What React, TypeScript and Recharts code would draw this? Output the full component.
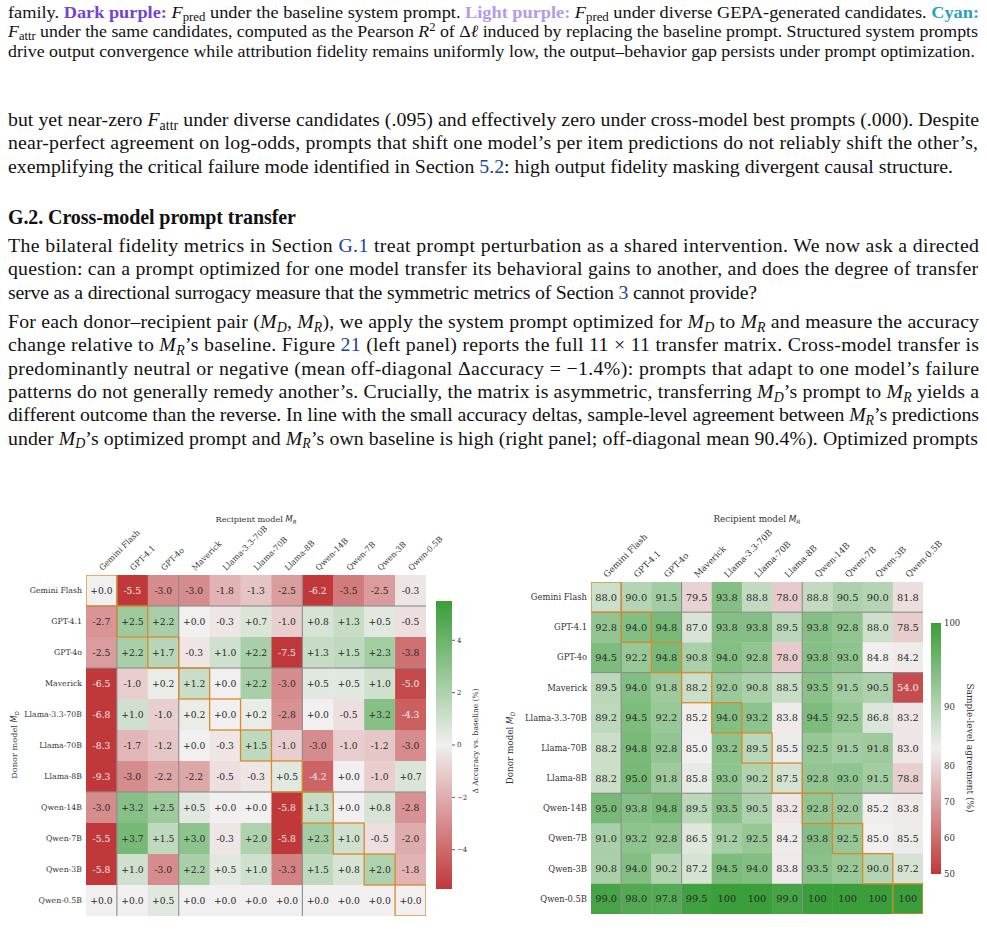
import React from 'react';
import { ScatterChart, Scatter, XAxis, YAxis } from 'recharts';

// ---------- DATA ----------
const models = ['Gemini Flash', 'GPT-4.1', 'GPT-4o', 'Maverick', 'Llama-3.3-70B', 'Llama-70B', 'Llama-8B', 'Qwen-14B', 'Qwen-7B', 'Qwen-3B', 'Qwen-0.5B'];
const familyStarts = [1, 3, 7];
const cellIndex = [0, 1, 2, 3, 4, 5, 6, 7, 8, 9, 10];

// Δ accuracy vs baseline (%), rows = donor, cols = recipient
const deltaMatrix = [
  [0.0, -5.5, -3.0, -3.0, -1.8, -1.3, -2.5, -6.2, -3.5, -2.5, -0.3],
  [-2.7, 2.5, 2.2, 0.0, -0.3, 0.7, -1.0, 0.8, 1.3, 0.5, -0.5],
  [-2.5, 2.2, 1.7, -0.3, 1.0, 2.2, -7.5, 1.3, 1.5, 2.3, -3.8],
  [-6.5, -1.0, 0.2, 1.2, 0.0, 2.2, -3.0, 0.5, 0.5, 1.0, -5.0],
  [-6.8, 1.0, -1.0, 0.2, 0.0, 0.2, -2.8, 0.0, -0.5, 3.2, -4.3],
  [-8.3, -1.7, -1.2, 0.0, -0.3, 1.5, -1.0, -3.0, -1.0, -1.2, -3.0],
  [-9.3, -3.0, -2.2, -2.2, -0.5, -0.3, 0.5, -4.2, 0.0, -1.0, 0.7],
  [-3.0, 3.2, 2.5, 0.5, 0.0, 0.0, -5.8, 1.3, 0.0, 0.8, -2.8],
  [-5.5, 3.7, 1.5, 3.0, -0.3, 2.0, -5.8, 2.3, 1.0, -0.5, -2.0],
  [-5.8, 1.0, -3.0, 2.2, 0.5, 1.0, -3.3, 1.5, 0.8, 2.0, -1.8],
  [0.0, 0.0, 0.5, 0.0, 0.0, 0.0, 0.0, 0.0, 0.0, 0.0, 0.0],
];

// Sample-level agreement (%)
const agreeMatrix = [
  [88.0, 90.0, 91.5, 79.5, 93.8, 88.8, 78.0, 88.8, 90.5, 90.0, 81.8],
  [92.8, 94.0, 94.8, 87.0, 93.8, 93.8, 89.5, 93.8, 92.8, 88.0, 78.5],
  [94.5, 92.2, 94.8, 90.8, 94.0, 92.8, 78.0, 93.8, 93.0, 84.8, 84.2],
  [89.5, 94.0, 91.8, 88.2, 92.0, 90.8, 88.5, 93.5, 91.5, 90.5, 54.0],
  [89.2, 94.5, 92.2, 85.2, 94.0, 93.2, 83.8, 94.5, 92.5, 86.8, 83.2],
  [88.2, 94.8, 92.8, 85.0, 93.2, 89.5, 85.5, 92.5, 91.5, 91.8, 83.0],
  [88.2, 95.0, 91.8, 85.8, 93.0, 90.2, 87.5, 92.8, 93.0, 91.5, 78.8],
  [95.0, 93.8, 94.8, 89.5, 93.5, 90.5, 83.2, 92.8, 92.0, 85.2, 83.8],
  [91.0, 93.2, 92.8, 86.5, 91.2, 92.5, 84.2, 93.8, 92.5, 85.0, 85.5],
  [90.8, 94.0, 90.2, 87.2, 94.5, 94.0, 83.8, 93.5, 92.2, 90.0, 87.2],
  [99.0, 98.0, 97.8, 99.5, 100, 100, 99.0, 100, 100, 100, 100],
];

const deltaTicks = [4, 2, 0, -2, -4];
const agreeTicks = [100, 90, 80, 70, 60, 50];

// ---------- COLOURS / NORMS ----------
const RED = [192, 56, 58];
const MID = [241, 239, 239];
const GREEN = [58, 158, 58];
const ORANGE = '#d98a2c';
const SEP = '#8c8c8c';

function cmap(t: number) {
  const c = t < 0 ? RED : GREEN;
  const a = Math.min(1, Math.abs(t));
  return [0, 1, 2].map((i) => Math.round(MID[i] + (c[i] - MID[i]) * a));
}
const deltaNorm = (v: number) => Math.max(-1, Math.min(1, v / 5.5));
const agreeNorm = (v: number) => (v >= 85 ? (v - 85) / 15 : (v - 85) / 35);
const fmtDelta = (v: number) => (v >= 0 ? '+' : '-') + Math.abs(v).toFixed(1);
const fmtAgree = (v: number) => (v >= 100 ? '100' : v.toFixed(1));

// ---------- HEATMAP ----------
type HMProps = {
  left: number; top: number; w: number; h: number;
  margin: { top: number; right: number; bottom: number; left: number };
  yAxisW: number; xAxisH: number;
  matrix: number[][]; norm: (v: number) => number; fmt: (v: number) => string;
  cellFont: number; rowFont: number; colFont: number;
};

function Heatmap(p: HMProps) {
  const plotW = p.w - p.margin.left - p.yAxisW - p.margin.right;
  const plotH = p.h - p.margin.top - p.xAxisH - p.margin.bottom;
  const cw = plotW / models.length;
  const ch = plotH / models.length;
  const data = p.matrix.flatMap((row, r) => row.map((v, c) => ({ x: c, y: r, v })));
  const diag = data.filter((d) => d.x === d.y);

  const CellShape = (s: any) => {
    const { cx, cy, payload } = s;
    const [r, g, b] = cmap(p.norm(payload.v));
    const L = 0.2126 * r + 0.7152 * g + 0.0722 * b;
    return (
      <g>
        <rect x={cx - cw / 2} y={cy - ch / 2} width={cw + 0.4} height={ch + 0.4} fill={`rgb(${r},${g},${b})`} />
        <text x={cx} y={cy} dy="0.36em" textAnchor="middle" fontSize={p.cellFont} fontFamily="DejaVu Serif"
          fill={L < 126 ? '#f6eeee' : '#2a2a2a'}>{p.fmt(payload.v)}</text>
      </g>
    );
  };
  const SepShape = (s: any) => {
    const { cx, cy, payload } = s;
    return (
      <g>
        {familyStarts.includes(payload.x) && (
          <line x1={cx - cw / 2} x2={cx - cw / 2} y1={cy - ch / 2} y2={cy + ch / 2} stroke={SEP} strokeWidth={1.1} />
        )}
        {familyStarts.includes(payload.y) && (
          <line x1={cx - cw / 2} x2={cx + cw / 2} y1={cy - ch / 2} y2={cy - ch / 2} stroke={SEP} strokeWidth={1.1} />
        )}
      </g>
    );
  };
  const DiagShape = (s: any) => {
    const { cx, cy } = s;
    return <rect x={cx - cw / 2} y={cy - ch / 2} width={cw} height={ch} fill="none" stroke={ORANGE} strokeWidth={1.3} />;
  };
  const ColTick = (t: any) => {
    const { x, y, payload } = t;
    return (
      <text x={x + 1} y={y} transform={`rotate(-45, ${x + 1}, ${y})`} textAnchor="start" fontSize={p.colFont}
        fontFamily="DejaVu Serif" fill="#333">{models[payload.value]}</text>
    );
  };
  const RowTick = (t: any) => {
    const { x, y, payload } = t;
    return (
      <text x={x} y={y} dy="0.35em" textAnchor="end" fontSize={p.rowFont} fontFamily="DejaVu Serif" fill="#333">
        {models[payload.value]}
      </text>
    );
  };

  return (
    <div style={{ position: 'absolute', left: p.left, top: p.top }}>
      <ScatterChart width={p.w} height={p.h} margin={p.margin}>
        <XAxis type="number" dataKey="x" domain={[-0.5, 10.5]} ticks={cellIndex} interval={0} orientation="top"
          height={p.xAxisH} axisLine={false} tickLine={false} tickSize={0} tickMargin={4} tick={<ColTick />} allowDataOverflow />
        <YAxis type="number" dataKey="y" domain={[-0.5, 10.5]} ticks={cellIndex} interval={0} reversed
          width={p.yAxisW} axisLine={false} tickLine={false} tickSize={0} tickMargin={4} tick={<RowTick />} allowDataOverflow />
        <Scatter data={data} shape={CellShape} isAnimationActive={false} />
        <Scatter data={data} shape={SepShape} isAnimationActive={false} />
        <Scatter data={diag} shape={DiagShape} isAnimationActive={false} />
      </ScatterChart>
    </div>
  );
}

// ---------- PAGE TEXT ----------
type SegObj = { t: string; i?: boolean; b?: boolean; c?: string; sub?: boolean; sup?: boolean };
type Seg = string | SegObj;
const DARKP = '#7444cf';
const LIGHTP = '#b49ae9';
const CYAN = '#27a2bf';
const LINK = '#22409e';
const F: SegObj = { t: 'F', i: true };
const sub = (t: string, i = false): SegObj => ({ t, sub: true, i });
const MD: Seg[] = [{ t: 'M', i: true }, sub('D', true)];
const MR: Seg[] = [{ t: 'M', i: true }, sub('R', true)];
const link = (t: string): SegObj => ({ t, c: LINK });

function TextLine({ x, y, size, segs, len, adjust = 'spacing', bold = false }:
  { x: number; y: number; size: number; segs: Seg[]; len?: number; adjust?: string; bold?: boolean }) {
  let shift = 0;
  const kids = segs.map((s, k) => {
    const o: SegObj = typeof s === 'string' ? { t: s } : s;
    const target = o.sub ? size * 0.2 : o.sup ? -size * 0.36 : 0;
    const dy = target - shift;
    shift = target;
    return (
      <tspan key={k} dy={dy !== 0 ? dy : undefined} fontStyle={o.i ? 'italic' : undefined}
        fontWeight={o.b ? 'bold' : undefined} fill={o.c} fontSize={o.sub || o.sup ? size * 0.7 : undefined}>{o.t}</tspan>
    );
  });
  return (
    <text x={x} y={y} fontSize={size} fontFamily="'Liberation Serif', serif" fill="#111" fontWeight={bold ? 'bold' : undefined}
      textLength={len} lengthAdjust={adjust as any} style={{ whiteSpace: 'pre' }}>{kids}</text>
  );
}

const captionLines: Seg[][] = [
  ['family. ', { t: 'Dark purple:', b: true, c: DARKP }, ' ', F, sub('pred'), ' under the baseline system prompt. ',
    { t: 'Light purple:', b: true, c: LIGHTP }, ' ', F, sub('pred'), ' under diverse GEPA-generated candidates. ', { t: 'Cyan:', b: true, c: CYAN }],
  [F, sub('attr'), ' under the same candidates, computed as the Pearson ', { t: 'R', i: true }, { t: '2', sup: true }, ' of Δ', { t: 'ℓ', i: true },
    ' induced by replacing the baseline prompt. Structured system prompts'],
  ['drive output convergence while attribution fidelity remains uniformly low, the output–behavior gap persists under prompt optimization.'],
];
const captionEnds = [979, 978, 975];

const bodyLines: { y: number; end: number; segs: Seg[] }[] = [
  { y: 126, end: 979, segs: ['but yet near-zero ', F, sub('attr'), ' under diverse candidates (.095) and effectively zero under cross-model best prompts (.000). Despite'] },
  { y: 149.3, end: 978, segs: ['near-perfect agreement on log-odds, prompts that shift one model’s per item predictions do not reliably shift the other’s,'] },
  { y: 172.6, end: 953, segs: ['exemplifying the critical failure mode identified in Section ', link('5.2'), ': high output fidelity masking divergent causal structure.'] },
  { y: 252, end: 979, segs: ['The bilateral fidelity metrics in Section ', link('G.1'), ' treat prompt perturbation as a shared intervention. We now ask a directed'] },
  { y: 275.3, end: 978, segs: ['question: can a prompt optimized for one model transfer its behavioral gains to another, and does the degree of transfer'] },
  { y: 298.6, end: 757, segs: ['serve as a directional surrogacy measure that the symmetric metrics of Section ', link('3'), ' cannot provide?'] },
  { y: 328, end: 979, segs: ['For each donor–recipient pair (', ...MD, ', ', ...MR, '), we apply the system prompt optimized for ', ...MD, ' to ', ...MR, ' and measure the accuracy'] },
  { y: 351.3, end: 979, segs: ['change relative to ', ...MR, '’s baseline. Figure ', link('21'), ' (left panel) reports the full 11 × 11 transfer matrix. Cross-model transfer is'] },
  { y: 374.6, end: 979, segs: ['predominantly neutral or negative (mean off-diagonal Δaccuracy = −1.4%): prompts that adapt to one model’s failure'] },
  { y: 397.9, end: 979, segs: ['patterns do not generally remedy another’s. Crucially, the matrix is asymmetric, transferring ', ...MD, '’s prompt to ', ...MR, ' yields a'] },
  { y: 421.2, end: 979, segs: ['different outcome than the reverse. In line with the small accuracy deltas, sample-level agreement between ', ...MR, '’s predictions'] },
  { y: 444.5, end: 978, segs: ['under ', ...MD, '’s optimized prompt and ', ...MR, '’s own baseline is high (right panel; off-diagonal mean 90.4%). Optimized prompts'] },
];

// ---------- COLORBARS ----------
function Colorbar({ x, y, w, h, ticks, norm, fmt, fontSize, tickLen, labelGap, id }:
  { x: number; y: number; w: number; h: number; ticks: number[]; norm: (v: number) => number; fmt: (v: number) => string; fontSize: number; tickLen: number; labelGap: number; id: string }) {
  const yOf = (v: number) => y + (1 - (norm(v) + 1) / 2) * h;
  const c = (a: number[]) => `rgb(${a[0]},${a[1]},${a[2]})`;
  return (
    <g>
      <defs>
        <linearGradient id={id} x1="0" y1="0" x2="0" y2="1">
          <stop offset="0%" stopColor={c(GREEN)} />
          <stop offset="50%" stopColor={c(MID)} />
          <stop offset="100%" stopColor={c(RED)} />
        </linearGradient>
      </defs>
      <rect x={x} y={y} width={w} height={h} fill={`url(#${id})`} />
      {ticks.map((v) => (
        <g key={v}>
          {tickLen > 0 && <line x1={x + w} x2={x + w + tickLen} y1={yOf(v)} y2={yOf(v)} stroke="#333" strokeWidth={0.8} />}
          <text x={x + w + tickLen + labelGap} y={yOf(v)} dy="0.35em" fontSize={fontSize} fontFamily="DejaVu Serif" fill="#333">{fmt(v)}</text>
        </g>
      ))}
    </g>
  );
}

export default function App() {
  return (
    <div style={{ position: 'absolute', left: 0, top: 0, width: 987, height: 935, background: '#fff', overflow: 'hidden' }}>
      <svg width={987} height={935} style={{ position: 'absolute', left: 0, top: 0 }}>
        {captionLines.map((segs, k) => (
          <TextLine key={k} x={8} y={17.5 + k * 19.5} size={17} segs={segs} len={captionEnds[k] - 8} adjust="spacingAndGlyphs" />
        ))}
        {bodyLines.map((l, k) => (
          <TextLine key={k} x={8} y={l.y} size={19.8} segs={l.segs} len={l.end - 8} />
        ))}
        <TextLine x={8} y={224} size={20} segs={['G.2. Cross-model prompt transfer']} len={288} bold />

        {/* left heatmap titles */}
        <text x={256} y={522} textAnchor="middle" fontSize={8.2} fontFamily="DejaVu Serif" fill="#333">
          Recipient model <tspan fontFamily="DejaVu Sans" fontStyle="italic">M</tspan>
          <tspan fontFamily="DejaVu Sans" fontStyle="italic" fontSize={5.5} dy={1.5}>R</tspan>
        </text>
        <text x={17} y={745} transform="rotate(-90, 17, 745)" textAnchor="middle" fontSize={8.2} fontFamily="DejaVu Serif" fill="#333">
          Donor model <tspan fontFamily="DejaVu Sans" fontStyle="italic">M</tspan>
          <tspan fontFamily="DejaVu Sans" fontStyle="italic" fontSize={5.5} dy={1.5}>D</tspan>
        </text>
        <Colorbar id="cbL" x={436} y={601} w={16} h={288} ticks={deltaTicks} norm={deltaNorm}
          fmt={(v) => (v < 0 ? '−' + Math.abs(v) : String(v))} fontSize={7} tickLen={3} labelGap={2} />
        <text x={478} y={741} transform="rotate(-90, 478, 741)" textAnchor="middle" fontSize={7.5} fontFamily="DejaVu Serif" fill="#333">
          Δ Accuracy vs. baseline (%)
        </text>

        {/* right heatmap titles */}
        <text x={757} y={522} textAnchor="middle" fontSize={8.8} fontFamily="DejaVu Serif" fill="#333">
          Recipient model  <tspan fontFamily="DejaVu Sans" fontStyle="italic">M</tspan>
          <tspan fontFamily="DejaVu Sans" fontStyle="italic" fontSize={6} dy={1.5}>R</tspan>
        </text>
        <text x={513} y={748} transform="rotate(-90, 513, 748)" textAnchor="middle" fontSize={8.8} fontFamily="DejaVu Serif" fill="#333">
          Donor model  <tspan fontFamily="DejaVu Sans" fontStyle="italic">M</tspan>
          <tspan fontFamily="DejaVu Sans" fontStyle="italic" fontSize={6} dy={1.5}>D</tspan>
        </text>
        <Colorbar id="cbR" x={931} y={623} w={10} h={251} ticks={agreeTicks} norm={agreeNorm}
          fmt={(v) => String(v)} fontSize={8.5} tickLen={0} labelGap={3} />
        <text x={967} y={748} transform="rotate(90, 967, 748)" textAnchor="middle" fontSize={9} fontFamily="DejaVu Serif" fill="#333">
          Sample-level agreement (%)
        </text>
      </svg>

      <Heatmap left={0} top={470} w={500} h={465} margin={{ top: 5, right: 74, bottom: 19, left: 6 }} yAxisW={80} xAxisH={100}
        matrix={deltaMatrix} norm={deltaNorm} fmt={fmtDelta} cellFont={9.2} rowFont={7.8} colFont={8} />
      <Heatmap left={500} top={470} w={487} h={465} margin={{ top: 12, right: 64, bottom: 21, left: 11 }} yAxisW={80} xAxisH={100}
        matrix={agreeMatrix} norm={agreeNorm} fmt={fmtAgree} cellFont={9.8} rowFont={8.4} colFont={8.6} />
    </div>
  );
}
